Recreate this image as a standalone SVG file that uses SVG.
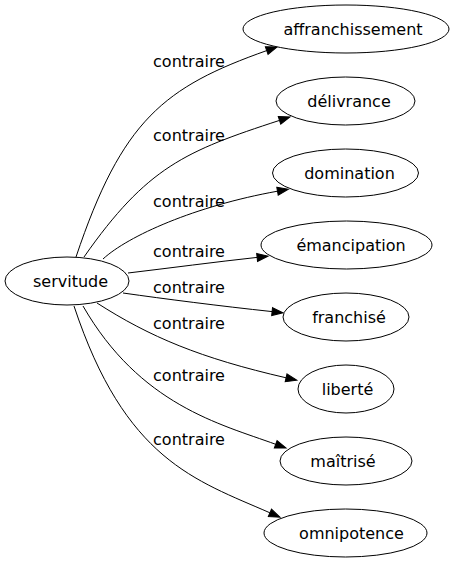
<svg xmlns="http://www.w3.org/2000/svg" width="454" height="563" viewBox="0 0 454 563">
<style>
.node ellipse{fill:#ffffff;stroke:#000000;stroke-width:1}
.node text{font-family:"DejaVu Sans",sans-serif;font-size:16px;fill:#000000;text-anchor:middle}
.edges path{fill:none;stroke:#000000;stroke-width:1}
.edges text{font-family:"DejaVu Sans",sans-serif;font-size:16px;fill:#000000;text-anchor:middle}
</style>
<defs>
<marker id="arrow" markerUnits="userSpaceOnUse" markerWidth="11" markerHeight="8" refX="0" refY="4" orient="auto" overflow="visible">
<path d="M0,0 L11,4 L0,8 z" fill="#000000" stroke="#000000" stroke-width="1"/>
</marker>
</defs>
<rect width="454" height="563" fill="#ffffff"/>
<g id="edges" class="edges">
<path d="M76,257 C122,120 164,87 266.7,50.6" marker-end="url(#arrow)"/>
<text x="189" y="66.5">contraire</text>
<path d="M84,257 C147,167 185.5,151 279.5,120.4" marker-end="url(#arrow)"/>
<text x="189" y="140.5">contraire</text>
<path d="M103,259 C128,236 195,206 277.5,191.2" marker-end="url(#arrow)"/>
<text x="189" y="206.5">contraire</text>
<path d="M128,273 C170,268 215,262 257.1,257.4" marker-end="url(#arrow)"/>
<text x="189" y="257">contraire</text>
<path d="M123,293 C165,299 220,306 272.1,311.6" marker-end="url(#arrow)"/>
<text x="189" y="293">contraire</text>
<path d="M97,303 C150,337 200,358 286.1,377.8" marker-end="url(#arrow)"/>
<text x="189" y="329">contraire</text>
<path d="M83,306 C140,405 220,424 275.7,444.3" marker-end="url(#arrow)"/>
<text x="189" y="380.5">contraire</text>
<path d="M74,306 C125,460 195,480 269.9,512.8" marker-end="url(#arrow)"/>
<text x="189" y="445">contraire</text>
</g>
<g id="servitude" class="node">
<ellipse cx="67" cy="281" rx="62" ry="24"/>
<text x="70.5" y="286.5">servitude</text>
</g>
<g id="affranchissement" class="node">
<ellipse cx="346" cy="29" rx="103" ry="24"/>
<text x="353" y="34.5">affranchissement</text>
</g>
<g id="delivrance" class="node">
<ellipse cx="345.5" cy="101" rx="69.5" ry="24"/>
<text x="349" y="106.5">délivrance</text>
</g>
<g id="domination" class="node">
<ellipse cx="345.5" cy="173" rx="73" ry="24"/>
<text x="349.5" y="178.5">domination</text>
</g>
<g id="emancipation" class="node">
<ellipse cx="346.5" cy="245" rx="85.5" ry="24"/>
<text x="351" y="250.5">émancipation</text>
</g>
<g id="franchise" class="node">
<ellipse cx="346" cy="317" rx="63" ry="24"/>
<text x="349" y="322.5">franchisé</text>
</g>
<g id="liberte" class="node">
<ellipse cx="346" cy="389" rx="48" ry="24"/>
<text x="347.5" y="394.5">liberté</text>
</g>
<g id="maitrise" class="node">
<ellipse cx="346" cy="461" rx="66" ry="24"/>
<text x="343" y="466.5">maîtrisé</text>
</g>
<g id="omnipotence" class="node">
<ellipse cx="345.5" cy="533" rx="81.5" ry="24"/>
<text x="351.5" y="538.5">omnipotence</text>
</g>
</svg>
